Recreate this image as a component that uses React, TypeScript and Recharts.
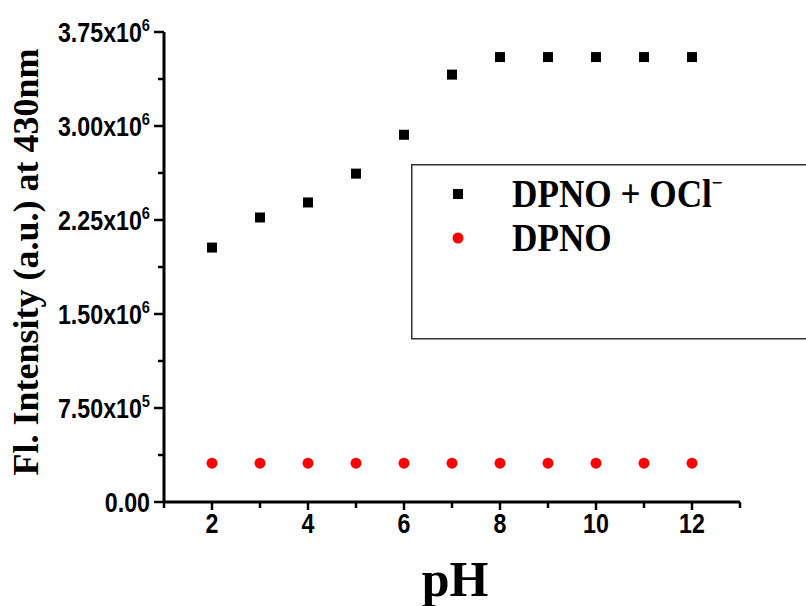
import { ScatterChart, Scatter, XAxis, YAxis, Legend } from 'recharts';

// pH sweep, fluorescence at 430 nm
const phValues = [2, 3, 4, 5, 6, 7, 8, 9, 10, 11, 12];
const dpnoOcl = [2.03e6, 2.27e6, 2.39e6, 2.62e6, 2.93e6, 3.41e6, 3.55e6, 3.55e6, 3.55e6, 3.55e6, 3.55e6];
const dpnoOnly = [3.1e5, 3.1e5, 3.1e5, 3.1e5, 3.1e5, 3.1e5, 3.1e5, 3.1e5, 3.1e5, 3.1e5, 3.1e5];
const seriesNames = ['DPNO + OCl', 'DPNO'];

const xTicks = [1, 2, 3, 4, 5, 6, 7, 8, 9, 10, 11, 12, 13];
const xMajor = [2, 4, 6, 8, 10, 12];
const yTicks = [0, 375000, 750000, 1125000, 1500000, 1875000, 2250000, 2625000, 3000000, 3375000, 3750000];
const yMajor = [0, 750000, 1500000, 2250000, 3000000, 3750000];
const yLabelBase = ['0.00', '7.50x10', '1.50x10', '2.25x10', '3.00x10', '3.75x10'];
const yLabelExp = ['', '5', '6', '6', '6', '6'];

const oclData = phValues.map((x, i) => ({ x, y: dpnoOcl[i] }));
const dpnoData = phValues.map((x, i) => ({ x, y: dpnoOnly[i] }));

const SANS = '"Liberation Sans", Arial, sans-serif';
const SERIF = '"Liberation Serif", "Times New Roman", serif';

const XTick = ({ x, y, payload }: any) => {
  const major = xMajor.includes(payload.value);
  return (
    <g>
      <line x1={x} x2={x} y1={y} y2={y + (major ? 8 : 6)} stroke="#000" strokeWidth={2.5} />
      {major && (
        <text
          transform={`translate(${x},${y + 31}) scale(0.86,1)`}
          textAnchor="middle"
          fontFamily={SANS}
          fontWeight="bold"
          fontSize={27}
          fill="#000"
        >
          {payload.value}
        </text>
      )}
    </g>
  );
};

const YTick = ({ x, y, payload }: any) => {
  const i = yMajor.indexOf(payload.value);
  const major = i >= 0;
  return (
    <g>
      <line x1={x} x2={x - (major ? 10 : 6)} y1={y} y2={y} stroke="#000" strokeWidth={2.5} />
      {major && (
        <text
          transform={`translate(${x - 14},${y + 10}) scale(0.86,1)`}
          textAnchor="end"
          fontFamily={SANS}
          fontWeight="bold"
          fontSize={27}
          fill="#000"
        >
          {yLabelBase[i]}
          {yLabelExp[i] && (
            <tspan dy={-11} fontSize={17}>
              {yLabelExp[i]}
            </tspan>
          )}
        </text>
      )}
    </g>
  );
};

const LegendBox = ({ payload }: any) => {
  const items = seriesNames.map((name) => (payload || []).find((p: any) => p.value === name)).filter(Boolean);
  return (
    <svg width={420} height={176} style={{ display: 'block' }}>
      <rect x={0.75} y={0.75} width={418} height={174} fill="none" stroke="#333" strokeWidth={1.5} />
      {items.map((entry: any, i: number) => {
        const cy = 30 + i * 44;
        return (
          <g key={entry.value}>
            {i === 0 ? (
              <rect x={42} y={cy - 5} width={10} height={10} fill={entry.color} />
            ) : (
              <circle cx={47} cy={cy} r={5.5} fill={entry.color} />
            )}
            <text
              transform={`translate(101,${cy + 13}) scale(0.88,1)`}
              fontFamily={SERIF}
              fontWeight="bold"
              fontSize={40}
              fill="#000"
            >
              {entry.value}
              {i === 0 && (
                <tspan dy={-17} fontSize={22}>
                  −
                </tspan>
              )}
            </text>
          </g>
        );
      })}
    </svg>
  );
};

export default function App() {
  return (
    <div style={{ position: 'absolute', left: 0, top: 0, width: 806, height: 606, overflow: 'hidden', background: '#fff' }}>
      <ScatterChart width={806} height={606} margin={{ top: 32, right: 66, bottom: 0, left: 0 }}>
        <XAxis
          type="number"
          dataKey="x"
          domain={[1, 13]}
          ticks={xTicks}
          interval={0}
          height={104}
          tickSize={0}
          tickMargin={0}
          axisLine={{ stroke: '#000', strokeWidth: 3 }}
          tick={<XTick />}
          label={{
            content: () => (
              <text x={455} y={596} textAnchor="middle" fontFamily={SERIF} fontWeight="bold" fontSize={50} fill="#000">
                pH
              </text>
            ),
          }}
        />
        <YAxis
          type="number"
          dataKey="y"
          domain={[0, 3750000]}
          ticks={yTicks}
          interval={0}
          width={164}
          tickSize={0}
          tickMargin={0}
          axisLine={{ stroke: '#000', strokeWidth: 3 }}
          tick={<YTick />}
          label={{
            content: () => (
              <text
                transform="translate(38,262) rotate(-90)"
                textAnchor="middle"
                fontFamily={SERIF}
                fontWeight="bold"
                fontSize={36}
                fill="#000"
              >
                Fl. Intensity (a.u.) at 430nm
              </text>
            ),
          }}
        />
        <Legend
          layout="horizontal"
          verticalAlign="middle"
          align="center"
          content={<LegendBox />}
          wrapperStyle={{ left: 411, top: 164, width: 420, height: 176 }}
        />
        <Scatter
          name="DPNO + OCl"
          data={oclData}
          fill="#000000"
          isAnimationActive={false}
          shape={(p: any) => <rect x={p.cx - 5} y={p.cy - 5} width={10} height={10} fill="#000" />}
        />
        <Scatter
          name="DPNO"
          data={dpnoData}
          fill="#ff0000"
          isAnimationActive={false}
          shape={(p: any) => <circle cx={p.cx} cy={p.cy} r={5.5} fill="#ff0000" />}
        />
      </ScatterChart>
    </div>
  );
}
